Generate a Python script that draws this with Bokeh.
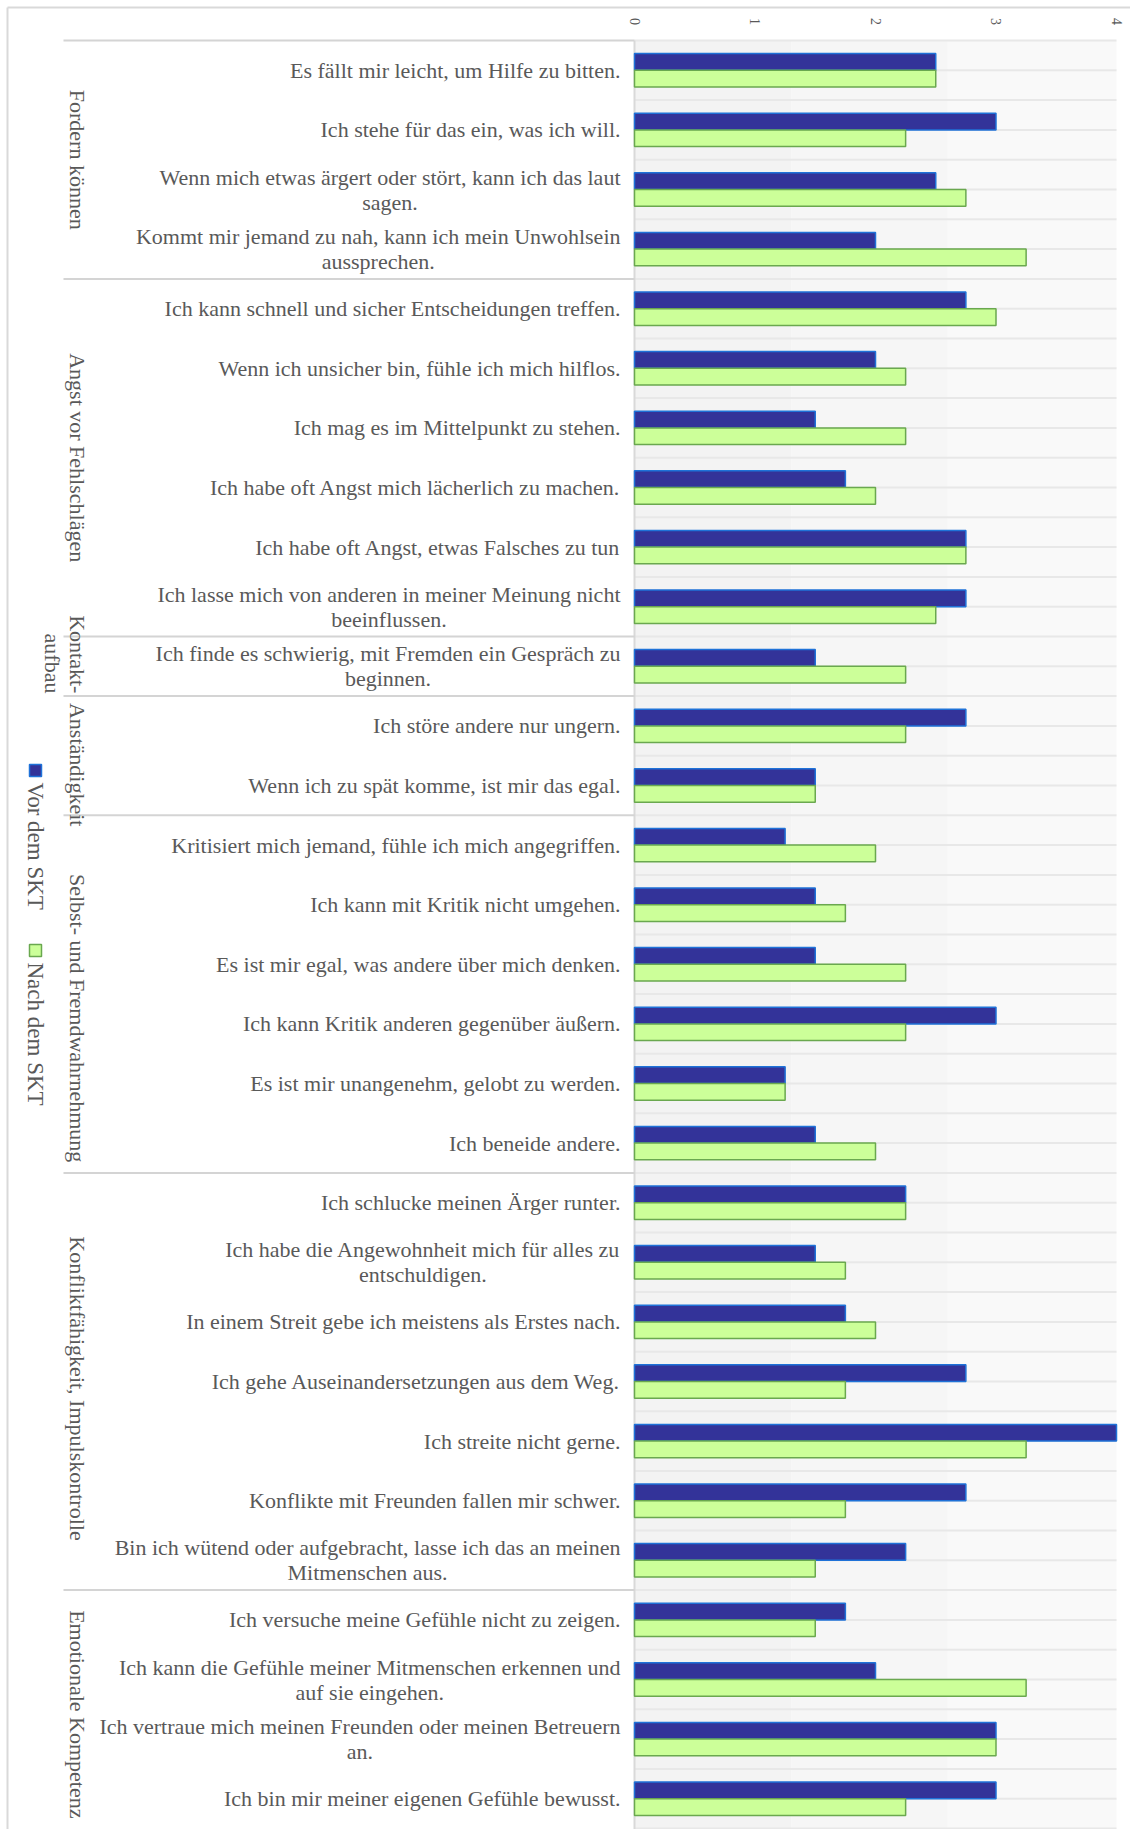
import math
from bokeh.plotting import figure
from bokeh.models import Range1d, ColumnDataSource
from bokeh.core.properties import value
from bokeh.embed import file_html
from bokeh.resources import INLINE

# ---------------- data ----------------
labels = [
    "Es fällt mir leicht, um Hilfe zu bitten.",
    "Ich stehe für das ein, was ich will.",
    "Wenn mich etwas ärgert oder stört, kann ich das laut\nsagen.",
    "Kommt mir jemand zu nah, kann ich mein Unwohlsein\naussprechen.",
    "Ich kann schnell und sicher Entscheidungen treffen.",
    "Wenn ich unsicher bin, fühle ich mich hilflos.",
    "Ich mag es im Mittelpunkt zu stehen.",
    "Ich habe oft Angst mich lächerlich zu machen.",
    "Ich habe oft Angst, etwas Falsches zu tun",
    "Ich lasse mich von anderen in meiner Meinung nicht\nbeeinflussen.",
    "Ich finde es schwierig, mit Fremden ein Gespräch zu\nbeginnen.",
    "Ich störe andere nur ungern.",
    "Wenn ich zu spät komme, ist mir das egal.",
    "Kritisiert mich jemand, fühle ich mich angegriffen.",
    "Ich kann mit Kritik nicht umgehen.",
    "Es ist mir egal, was andere über mich denken.",
    "Ich kann Kritik anderen gegenüber äußern.",
    "Es ist mir unangenehm, gelobt zu werden.",
    "Ich beneide andere.",
    "Ich schlucke meinen Ärger runter.",
    "Ich habe die Angewohnheit mich für alles zu\nentschuldigen.",
    "In einem Streit gebe ich meistens als Erstes nach.",
    "Ich gehe Auseinandersetzungen aus dem Weg.",
    "Ich streite nicht gerne.",
    "Konflikte mit Freunden fallen mir schwer.",
    "Bin ich wütend oder aufgebracht, lasse ich das an meinen\nMitmenschen aus.",
    "Ich versuche meine Gefühle nicht zu zeigen.",
    "Ich kann die Gefühle meiner Mitmenschen erkennen und\nauf sie eingehen.",
    "Ich vertraue mich meinen Freunden oder meinen Betreuern\nan.",
    "Ich bin mir meiner eigenen Gefühle bewusst.",
]
vor_dem_skt = [2.5, 3.0, 2.5, 2.0, 2.75, 2.0, 1.5, 1.75, 2.75, 2.75,
               1.5, 2.75, 1.5, 1.25, 1.5, 1.5, 3.0, 1.25, 1.5, 2.25,
               1.5, 1.75, 2.75, 4.0, 2.75, 2.25, 1.75, 2.0, 3.0, 3.0]
nach_dem_skt = [2.5, 2.25, 2.75, 3.25, 3.0, 2.25, 2.25, 2.0, 2.75, 2.5,
                2.25, 2.25, 1.5, 2.0, 1.75, 2.25, 2.25, 1.25, 2.0, 2.25,
                1.75, 2.0, 1.75, 3.25, 1.75, 1.5, 1.5, 3.25, 3.0, 2.25]
groups = ["Fordern können", "Angst vor Fehlschlägen", "Kontakt-\naufbau",
          "Anständigkeit", "Selbst- und Fremdwahrnehmung",
          "Konfliktfähigkeit, Impulskontrolle", "Emotionale Kompetenz"]
group_sizes = [4, 6, 1, 2, 6, 7, 4]
ticks = [0, 1, 2, 3, 4]
series_names = ["Vor dem SKT", "Nach dem SKT"]

# ---------------- styles ----------------
W, H = 1130, 1829
X0_PX, X4_PX = 634, 1116
TOP_PX = 40
PPU = (X4_PX - X0_PX) / 4.0
N = len(labels)
ROW = (H - 1 - TOP_PX) / N
FONT = value("Liberation Serif")
TXT = "#595959"
BLUE, BLUE_LINE = "#333399", "#1f72d8"
GREEN, GREEN_LINE = "#ccff99", "#6aa84f"
group_offsets_px = [0, 0, -12, 9, 24, 7, 5]


def px2x(px):
    return (px - X0_PX) / PPU


def py2y(py):
    return (py - TOP_PX) / ROW - 0.5


x_range = Range1d(px2x(0), px2x(W))
y_range = Range1d(py2y(H), py2y(0))

p = figure(frame_width=W, frame_height=H, x_range=x_range, y_range=y_range,
           output_backend="svg", toolbar_location=None,
           x_axis_location=None, y_axis_location=None, title=None,
           min_border=0)
p.outline_line_color = None
p.background_fill_color = "white"
p.border_fill_color = "white"
p.xgrid.visible = False
p.ygrid.visible = False
for g in p.grid:
    g.visible = False

rows = list(range(N))
top_y = -0.5
bottom_y = py2y(H + 5)

# plot area background (light gradient-like bands)
p.quad(left=[0, 1.3, 2.6], right=[1.3, 2.6, 4], top=[top_y] * 3, bottom=[bottom_y] * 3,
       fill_color=["#f3f3f3", "#f6f6f6", "#f9f9f9"], line_color=None)

# horizontal gridlines at every half row
grid_y = [top_y + 0.5 * k for k in range(2 * N + 1)]
p.segment(x0=[0] * len(grid_y), x1=[4] * len(grid_y), y0=grid_y, y1=grid_y,
          line_color="#e8e8e8", line_width=2)

# zero axis line
p.segment(x0=[0], x1=[0], y0=[top_y], y1=[bottom_y], line_color="#d9d9d9", line_width=2)

# group separators on the left
bounds = [0]
for s in group_sizes:
    bounds.append(bounds[-1] + s)
sep_y = [b - 0.5 for b in bounds[:-1]]
p.segment(x0=[px2x(63)] * len(sep_y), x1=[0] * len(sep_y), y0=sep_y, y1=sep_y,
          line_color="#d4d4d4", line_width=2)

# outer frame (left and top)
p.segment(x0=[px2x(7), px2x(7)], x1=[px2x(7), px2x(W + 10)],
          y0=[py2y(7), py2y(7)], y1=[py2y(H + 10), py2y(7)],
          line_color="#d9d9d9", line_width=2)

# bars
BH = 0.28
src = ColumnDataSource(dict(
    y_vor=[r - BH / 2 for r in rows], y_nach=[r + BH / 2 for r in rows],
    vor=vor_dem_skt, nach=nach_dem_skt, label=labels, row=rows))
p.hbar(y="y_vor", left=0, right="vor", height=BH, source=src,
       fill_color=BLUE, line_color=BLUE_LINE, line_width=1.5)
p.hbar(y="y_nach", left=0, right="nach", height=BH, source=src,
       fill_color=GREEN, line_color=GREEN_LINE, line_width=1.5)

# category labels
p.text(x=0, y="row", text="label", source=src, x_offset=-14,
       anchor=value("center_right"), text_align="center", text_baseline="middle",
       text_font=FONT, text_font_size="22px", text_color=TXT, text_line_height=1.0)

# group labels (rotated)
g_centers = [(bounds[i] + bounds[i + 1] - 1) / 2.0 for i in range(len(groups))]
gsrc = ColumnDataSource(dict(x=[px2x(89)] * len(groups), y=g_centers, text=groups,
                             yo=group_offsets_px))
p.text(x="x", y="y", text="text", y_offset="yo", source=gsrc, angle=-math.pi / 2,
       anchor=value("top_center"), text_align="right", text_baseline="middle",
       text_font=FONT, text_font_size="22px", text_color=TXT, text_line_height=1.0)

# x tick labels (rotated, top)
p.text(x=ticks, y=[py2y(21)] * len(ticks), text=[str(t) for t in ticks],
       angle=-math.pi / 2, anchor=value("center"), text_align="center",
       text_baseline="middle", text_font=FONT, text_font_size="14px", text_color=TXT)

# legend (rotated, left)
p.scatter(x=[px2x(35)] * 2, y=[py2y(770), py2y(950)], marker="square", size=12,
          fill_color=[BLUE, GREEN], line_color=[BLUE_LINE, GREEN_LINE], line_width=1.5)
p.text(x=[px2x(35)] * 2, y=[py2y(782), py2y(962)], text=series_names,
       angle=-math.pi / 2, anchor=value("center_left"), text_align="left",
       text_baseline="middle", text_font=FONT, text_font_size="23px", text_color=TXT)

with open("out.html", "w") as f:
    f.write(file_html(p, INLINE))
